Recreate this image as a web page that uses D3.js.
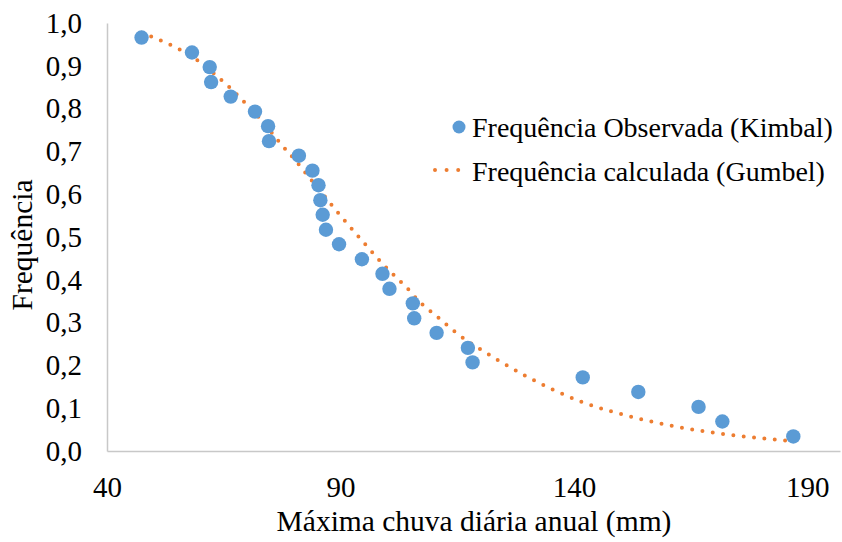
<!DOCTYPE html>
<meta charset="utf-8">
<style>
body { margin: 0; background: #fff; }
svg { font-family: "Liberation Serif", "Times New Roman", serif; }
.tick text { font-size: 29px; fill: #000; }
</style>
<svg width="842" height="542"></svg>
<script src="https://d3js.org/d3.v7.min.js"></script>
<script>

// observed (Kimbal) - annual max daily rain (mm) and frequency
var chuva = [47.4, 58.2, 62.0, 62.3, 66.5, 71.7, 74.5, 74.7, 81.1, 84.0,
             85.3, 85.7, 86.2, 86.9, 89.7, 94.6, 99.0, 100.5, 105.5, 105.8,
             110.6, 117.3, 118.3, 141.9, 153.8, 166.7, 171.8, 187.0];
var freqObs = [0.966, 0.931, 0.897, 0.862, 0.828, 0.793, 0.759, 0.724, 0.690, 0.655,
               0.621, 0.586, 0.552, 0.517, 0.483, 0.448, 0.414, 0.379, 0.345, 0.310,
               0.276, 0.241, 0.207, 0.172, 0.138, 0.103, 0.069, 0.034];
// calculated (Gumbel) at the same x
var freqGumbel = [0.977, 0.921, 0.891, 0.888, 0.847, 0.789, 0.755, 0.752, 0.669, 0.630,
                  0.613, 0.607, 0.601, 0.591, 0.554, 0.492, 0.438, 0.421, 0.366, 0.362,
                  0.315, 0.256, 0.249, 0.114, 0.076, 0.048, 0.040, 0.023];

var xTicks = [40, 90, 140, 190];
var yTicks = [0, 0.1, 0.2, 0.3, 0.4, 0.5, 0.6, 0.7, 0.8, 0.9, 1.0];
var seriesNames = ["Frequência Observada (Kimbal)", "Frequência calculada (Gumbel)"];

var svg = d3.select("svg"),
    margin = {top: 23, right: 2, bottom: 91, left: 107},
    width = +svg.attr("width"),
    height = +svg.attr("height");

var blue = "#5b9bd5", orange = "#ed7d31";

var x = d3.scaleLinear().domain([40, 197]).range([margin.left, width - margin.right]);
var y = d3.scaleLinear().domain([0, 1]).range([height - margin.bottom, margin.top]);

var comma = function(d) { return d3.format(".1f")(d).replace(".", ","); };

// axes
var gx = svg.append("g")
    .attr("transform", "translate(0," + y(0) + ")")
    .call(d3.axisBottom(x).tickValues(xTicks).tickSize(0).tickPadding(25).tickFormat(d3.format("d")))
    .attr("font-family", null);
gx.select(".domain").attr("stroke", "#c8c8c8").attr("stroke-width", 1.5);

var gy = svg.append("g")
    .attr("transform", "translate(" + x(40) + ",0)")
    .call(d3.axisLeft(y).tickValues(yTicks).tickSize(0).tickPadding(25).tickFormat(comma))
    .attr("font-family", null);
gy.select(".domain").attr("stroke", "#c8c8c8").attr("stroke-width", 1.5);

// gumbel dotted curve
var pts = chuva.map(function(c, i) { return [c, freqGumbel[i]]; });
var line = d3.line()
    .x(function(d) { return x(d[0]); })
    .y(function(d) { return y(d[1]); })
    .curve(d3.curveMonotoneX);

svg.append("path")
    .datum(pts)
    .attr("fill", "none")
    .attr("stroke", orange)
    .attr("stroke-width", 4)
    .attr("stroke-linecap", "round")
    .attr("stroke-dasharray", "0 10.4")
    .attr("d", line);

// observed points
svg.append("g")
  .selectAll("circle")
  .data(chuva)
  .enter().append("circle")
    .attr("cx", function(d) { return x(d); })
    .attr("cy", function(d, i) { return y(freqObs[i]); })
    .attr("r", 7.2)
    .attr("fill", blue);

// axis titles
svg.append("text")
    .attr("x", 474)
    .attr("y", 531)
    .attr("text-anchor", "middle")
    .attr("font-size", 29.5)
    .text("Máxima chuva diária anual (mm)");

svg.append("text")
    .attr("transform", "translate(32,245) rotate(-90)")
    .attr("text-anchor", "middle")
    .attr("font-size", 29.5)
    .text("Frequência");

// legend
var legend = svg.append("g").attr("transform", "translate(472,0)");

legend.append("circle")
    .attr("cx", -13).attr("cy", 127).attr("r", 6.5)
    .attr("fill", blue);

legend.append("line")
    .attr("x1", -37).attr("x2", -13)
    .attr("y1", 170).attr("y2", 170)
    .attr("stroke", orange)
    .attr("stroke-width", 4)
    .attr("stroke-linecap", "round")
    .attr("stroke-dasharray", "0 11.6");

legend.selectAll("text.lbl")
  .data(seriesNames)
  .enter().append("text")
    .attr("class", "lbl")
    .attr("x", 0)
    .attr("y", function(d, i) { return 137 + i * 44; })
    .attr("font-size", 28)
    .text(function(d) { return d; });

</script>
